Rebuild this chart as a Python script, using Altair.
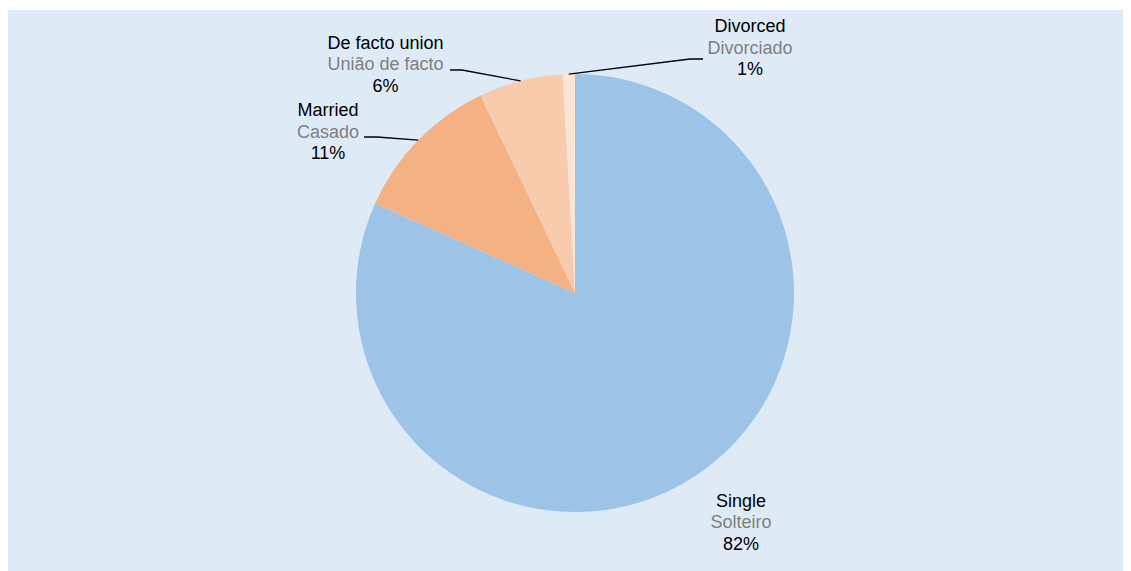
import altair as alt
import pandas as pd
import numpy as np

# ---- data ----
categories_en = ["Single", "Married", "De facto union", "Divorced"]
categories_pt = ["Solteiro", "Casado", "União de facto", "Divorciado"]
values = [81.7, 11.2, 6.2, 0.9]
pct_labels = ["82%", "11%", "6%", "1%"]
colors = ["#9dc3e6", "#f4b183", "#f8cbad", "#fbe5d6"]

# ---- layout (pixels in plot area) ----
W, H = 1115, 563
CX, CY, R = 567, 283, 219
label_pos = [(733, 513), (320, 122.5), (377.5, 55), (742, 38.5)]
leader_start = [None, (356, 127), (442, 60), (695, 49)]
leader_elbow = [None, (369, 127), (454, 60), (682, 49)]
LINE = 21.5

df = pd.DataFrame({
    "en": categories_en, "pt": categories_pt, "value": values,
    "pct": pct_labels, "order": list(range(len(values))),
    "lx": [p[0] for p in label_pos], "ly": [p[1] for p in label_pos],
})

# leader line end points at slice mid-angles (computed from data)
tot = sum(values)
cum = np.cumsum([0] + values)
rows = []
for i, cat in enumerate(categories_en):
    if leader_start[i] is None:
        continue
    mid = (cum[i] + values[i] / 2) / tot * 2 * np.pi
    ex = CX + R * np.sin(mid)
    ey = CY - R * np.cos(mid)
    pts = [leader_start[i], leader_elbow[i], (ex, ey)]
    for k, (px, py) in enumerate(pts):
        rows.append({"cat": cat, "k": k, "px": px, "py": py})
lines = pd.DataFrame(rows)

pie = alt.Chart(df).mark_arc(outerRadius=R, stroke=None).encode(
    theta=alt.Theta("value:Q", stack=True),
    order=alt.Order("order:Q"),
    color=alt.Color("en:N", scale=alt.Scale(domain=categories_en, range=colors), legend=None),
    x=alt.value(CX), y=alt.value(CY),
)

leaders = alt.Chart(lines).mark_line(color="black", strokeWidth=1.3).encode(
    x=alt.X("px:Q", scale=None), y=alt.Y("py:Q", scale=None),
    detail="cat:N", order="k:Q",
)

font = "Liberation Sans"
base = alt.Chart(df).encode(x=alt.X("lx:Q", scale=None), y=alt.Y("ly:Q", scale=None))
t_en = base.mark_text(font=font, fontSize=18, color="black", dy=-LINE, baseline="middle").encode(text="en:N")
t_pt = base.mark_text(font=font, fontSize=18, color="#7f7f7f", baseline="middle").encode(text="pt:N")
t_pc = base.mark_text(font=font, fontSize=18, color="black", dy=LINE, baseline="middle").encode(text="pct:N")

chart = alt.layer(pie, leaders, t_en, t_pt, t_pc).properties(
    width=W, height=H,
    autosize=alt.AutoSizeParams(type="fit", contains="padding"),
    padding={"left": 0, "top": 2, "right": 0, "bottom": 0},
    background="white",
).configure_view(fill="#deebf7", stroke=None)

chart.save("out.html", embed_options={"renderer": "svg", "actions": False})
